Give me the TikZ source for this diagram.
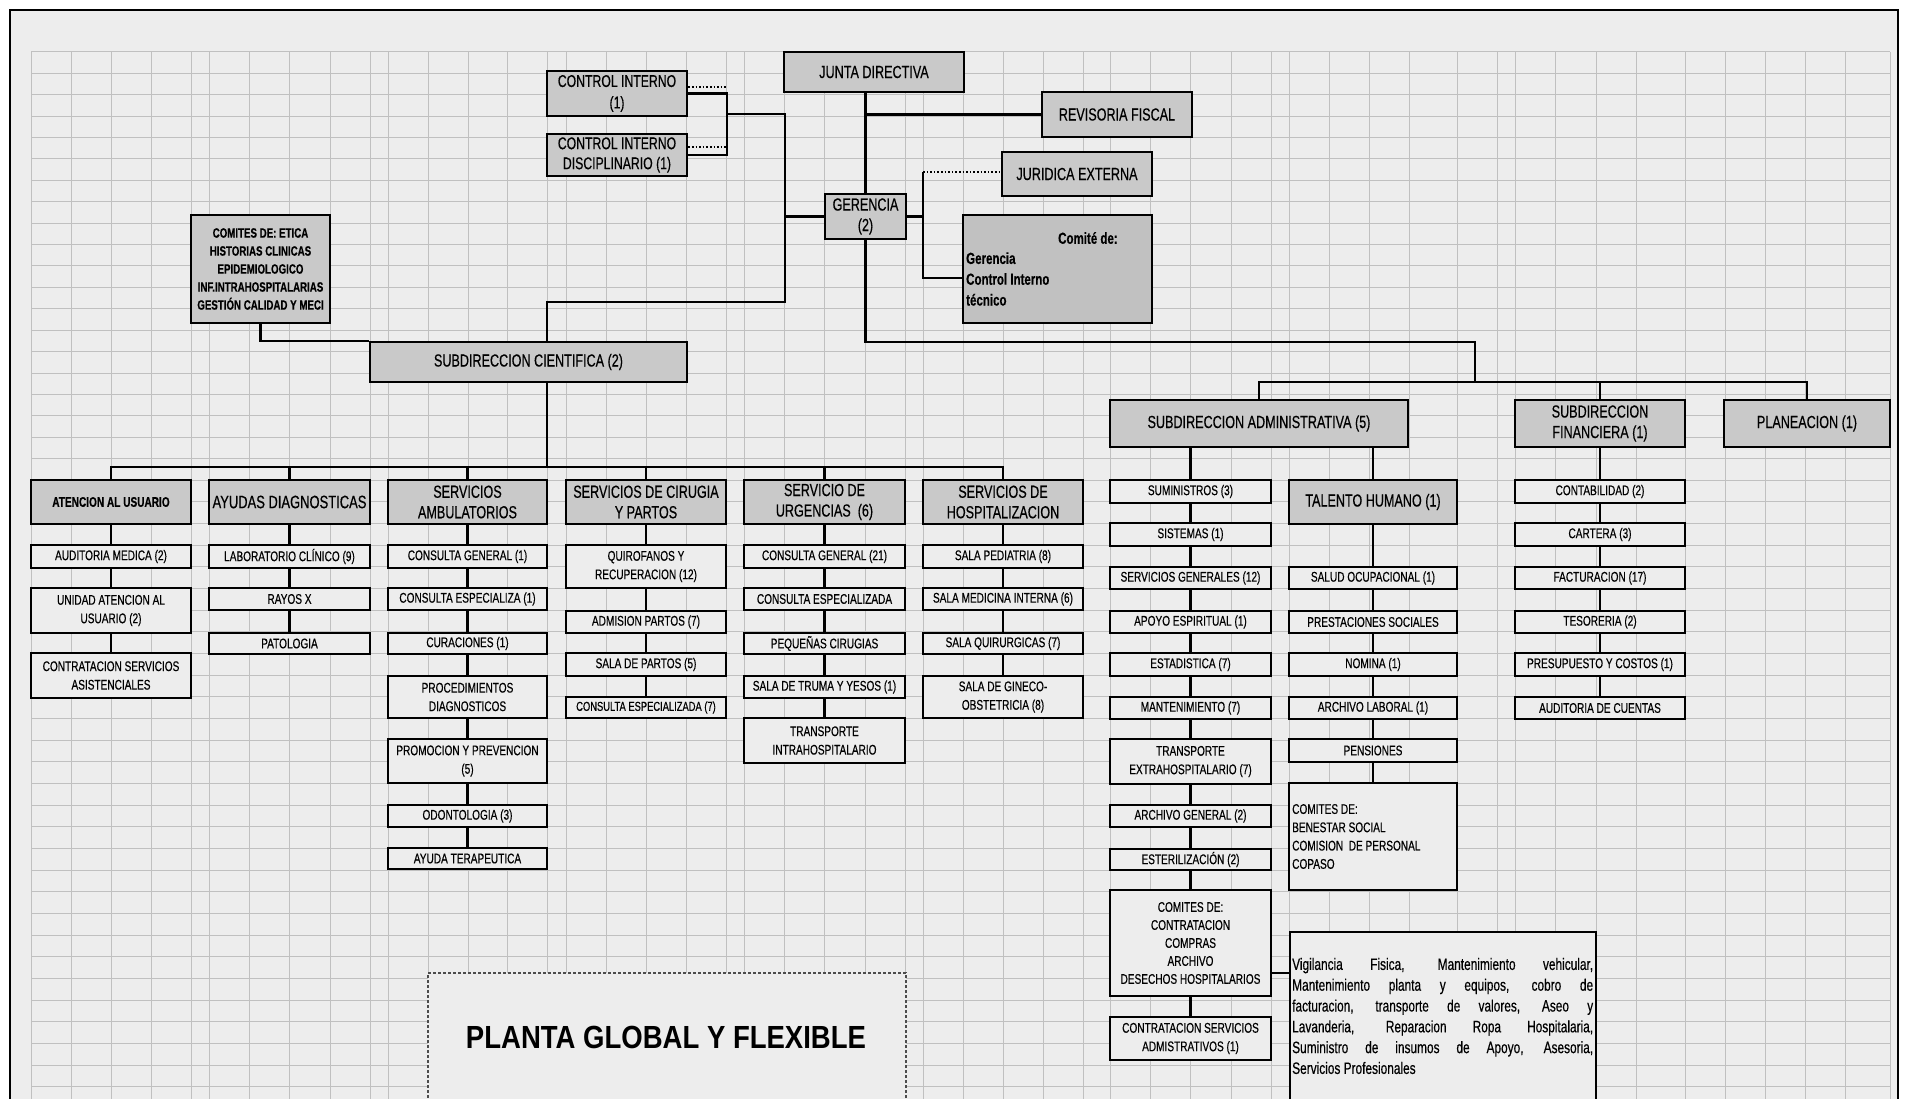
\documentclass[tikz,border=0pt]{standalone}
\usepackage{fontspec}
\setmainfont{Liberation Sans}
\newfontfamily\nf{Liberation Sans}[FakeStretch=0.72, FakeBold=0.4]
\newfontfamily\tf{Liberation Sans}[FakeStretch=0.86]
\definecolor{bgc}{HTML}{EDEDED}
\definecolor{gridc}{HTML}{C0C0C0}
\definecolor{hdrfill}{HTML}{C9C9C9}
\definecolor{ctefill}{HTML}{C1C1C1}
\tikzset{
  hdr/.style={draw, line width=2.6pt, fill=hdrfill, inner sep=0pt, align=center,
    font=\nf\fontsize{17.5}{20.5}\selectfont},
  sm/.style={draw, line width=2.6pt, fill=bgc, inner sep=0pt, align=center,
    font=\nf\fontsize{14}{18.5}\selectfont},
  conn/.style={line width=2.4pt},
  dotline/.style={line width=1.6pt, dotted},
  gridln/.style={gridc, line width=1pt},
  lbl/.style={inner sep=0pt, align=left},
}
% box from corner (x1,y1) to corner (x2,y2)
\newcommand\bx[7]{%
  \pgfmathsetmacro\bxw{#4-#2}%
  \pgfmathsetmacro\bxh{#5-#3}%
  \node[#6, minimum width=\bxw pt, minimum height=\bxh pt] (#1) at ({(#2+#4)/2},{(#3+#5)/2}) {#7};}
% one justified line of the services list
\newcommand\jline[1]{\hbox to 301pt{\spaceskip=.25em plus 1fil\relax #1}}
\begin{document}
\begin{tikzpicture}[x=1pt, y=-1pt]
\useasboundingbox (0,0) rectangle (1906,1099);
\clip (0,0) rectangle (1906,1099);
\fill[white] (0,0) rectangle (1906,1099);
\fill[bgc] (10,10) rectangle (1898,1110);
% sheet grid (spreadsheet columns and rows)
\foreach \gx in {31,71,111,151,191, 209,249,289,330,370, 388,428,468,507,547,
    566,606,646,686,726, 744,784,824,865,905, 923,963,1003,1043,1083,
    1110,1150,1190,1231,1271, 1289,1329,1369,1409,1457,1497,
    1515,1555,1596,1636,1685, 1725,1765,1805,1845,1890}
  \draw[gridln] (\gx,52) -- (\gx,1110);
\foreach \k in {0,...,19} \draw[gridln] (31,{52+21.4*\k}) -- (1890,{52+21.4*\k});
\foreach \k in {0,...,29} \draw[gridln] (31,{480+21.67*\k}) -- (1890,{480+21.67*\k});
\draw[line width=2pt] (10,1110) -- (10,10) -- (1898,10) -- (1898,1110);

% top management
\bx{jd}{784}{52}{964}{92}{hdr}{JUNTA DIRECTIVA}
\bx{rf}{1042}{92}{1192}{137}{hdr}{REVISORIA FISCAL}
\bx{je}{1002}{152}{1152}{196}{hdr}{JURIDICA EXTERNA}
\bx{ger}{825}{194}{906}{239}{hdr}{GERENCIA\\(2)}
\bx{cte}{963}{215}{1152}{323}{hdr, fill=ctefill}{}
\node[lbl, anchor=west, font=\nf\bfseries\fontsize{16}{19}\selectfont] (ctet) at (1058,238) {Comité de:};
\node[lbl, anchor=west, font=\nf\bfseries\fontsize{16}{20.8}\selectfont] (ctel) at (966,279) {Gerencia\\Control Interno\\técnico};
\bx{ci1}{547}{71}{687}{116}{hdr, font=\nf\fontsize{17}{21.5}\selectfont}{CONTROL INTERNO\\(1)}
\bx{cid}{547}{134}{687}{176}{hdr, font=\nf\fontsize{17}{20}\selectfont}{CONTROL INTERNO\\DISCIPLINARIO (1)}
\bx{eti}{191}{215}{330}{323}{hdr, font=\nf\bfseries\fontsize{13.5}{18}\selectfont}{COMITES DE: ETICA\\HISTORIAS CLINICAS\\EPIDEMIOLOGICO\\INF.INTRAHOSPITALARIAS\\GESTIÓN CALIDAD Y MECI}
\bx{sc}{370}{342}{687}{382}{hdr}{SUBDIRECCION CIENTIFICA (2)}

% scientific branch
\bx{atu}{31}{480}{191}{524}{hdr, font=\nf\bfseries\fontsize{14}{18}\selectfont}{ATENCION AL USUARIO}
\bx{ayd}{209}{480}{370}{524}{hdr, font=\nf\fontsize{18}{20}\selectfont}{AYUDAS DIAGNOSTICAS}
\bx{amb}{388}{480}{547}{524}{hdr}{SERVICIOS\\AMBULATORIOS}
\bx{cir}{566}{480}{726}{524}{hdr}{SERVICIOS DE CIRUGIA\\Y PARTOS}
\bx{urg}{744}{480}{905}{524}{hdr}{SERVICIO DE\\URGENCIAS\ \ (6)}
\bx{hos}{923}{480}{1083}{524}{hdr}{SERVICIOS DE\\HOSPITALIZACION}

\bx{a1}{31}{545}{191}{568}{sm}{AUDITORIA MEDICA (2)}
\bx{a2}{31}{588}{191}{633}{sm}{UNIDAD ATENCION AL\\USUARIO (2)}
\bx{a3}{31}{653}{191}{698}{sm}{CONTRATACION SERVICIOS\\ASISTENCIALES}
\bx{d1}{209}{545}{370}{568}{sm}{LABORATORIO CLÍNICO (9)}
\bx{d2}{209}{588}{370}{610}{sm}{RAYOS X}
\bx{d3}{209}{633}{370}{654}{sm}{PATOLOGIA}
\bx{m1}{388}{545}{547}{568}{sm}{CONSULTA GENERAL (1)}
\bx{m2}{388}{588}{547}{610}{sm}{CONSULTA ESPECIALIZA (1)}
\bx{m3}{388}{633}{547}{654}{sm}{CURACIONES (1)}
\bx{m4}{388}{676}{547}{718}{sm}{PROCEDIMIENTOS\\DIAGNOSTICOS}
\bx{m5}{388}{739}{547}{783}{sm}{PROMOCION Y PREVENCION\\(5)}
\bx{m6}{388}{805}{547}{827}{sm}{ODONTOLOGIA (3)}
\bx{m7}{388}{848}{547}{869}{sm}{AYUDA TERAPEUTICA}
\bx{c1}{566}{545}{726}{588}{sm}{QUIROFANOS Y\\RECUPERACION (12)}
\bx{c2}{566}{611}{726}{633}{sm}{ADMISION PARTOS (7)}
\bx{c3}{566}{653}{726}{676}{sm}{SALA DE PARTOS (5)}
\bx{c4}{566}{697}{726}{718}{sm, font=\nf\fontsize{13}{16}\selectfont}{CONSULTA ESPECIALIZADA (7)}
\bx{u1}{744}{545}{905}{568}{sm}{CONSULTA GENERAL (21)}
\bx{u2}{744}{588}{905}{610}{sm}{CONSULTA ESPECIALIZADA}
\bx{u3}{744}{633}{905}{654}{sm}{PEQUEÑAS CIRUGIAS}
\bx{u4}{744}{676}{905}{698}{sm}{SALA DE TRUMA Y YESOS (1)}
\bx{u5}{744}{718}{905}{763}{sm}{TRANSPORTE\\INTRAHOSPITALARIO}
\bx{h1}{923}{545}{1083}{568}{sm}{SALA PEDIATRIA (8)}
\bx{h2}{923}{588}{1083}{610}{sm}{SALA MEDICINA INTERNA (6)}
\bx{h3}{923}{633}{1083}{654}{sm}{SALA QUIRURGICAS (7)}
\bx{h4}{923}{676}{1083}{718}{sm}{SALA DE GINECO-\\OBSTETRICIA (8)}

% administrative and financial branches
\bx{sa}{1110}{400}{1408}{447}{hdr}{SUBDIRECCION ADMINISTRATIVA (5)}
\bx{sf}{1515}{400}{1685}{447}{hdr}{SUBDIRECCION\\FINANCIERA (1)}
\bx{pl}{1724}{400}{1890}{447}{hdr}{PLANEACION (1)}
\bx{s1}{1110}{480}{1271}{503}{sm}{SUMINISTROS (3)}
\bx{s2}{1110}{523}{1271}{546}{sm}{SISTEMAS (1)}
\bx{s3}{1110}{567}{1271}{589}{sm}{SERVICIOS GENERALES (12)}
\bx{s4}{1110}{611}{1271}{633}{sm}{APOYO ESPIRITUAL (1)}
\bx{s5}{1110}{653}{1271}{676}{sm}{ESTADISTICA (7)}
\bx{s6}{1110}{697}{1271}{719}{sm}{MANTENIMIENTO (7)}
\bx{s7}{1110}{739}{1271}{784}{sm}{TRANSPORTE\\EXTRAHOSPITALARIO (7)}
\bx{s8}{1110}{805}{1271}{827}{sm}{ARCHIVO GENERAL (2)}
\bx{s9}{1110}{849}{1271}{870}{sm}{ESTERILIZACIÓN (2)}
\bx{cc}{1110}{890}{1271}{996}{sm, font=\nf\fontsize{14}{18}\selectfont}{COMITES DE:\\CONTRATACION\\COMPRAS\\ARCHIVO\\DESECHOS HOSPITALARIOS}
\bx{csa}{1110}{1017}{1271}{1060}{sm}{CONTRATACION SERVICIOS\\ADMISTRATIVOS (1)}
\bx{th}{1289}{480}{1457}{524}{hdr}{TALENTO HUMANO (1)}
\bx{t1}{1289}{567}{1457}{589}{sm}{SALUD OCUPACIONAL (1)}
\bx{t2}{1289}{611}{1457}{633}{sm}{PRESTACIONES SOCIALES}
\bx{t3}{1289}{653}{1457}{676}{sm}{NOMINA (1)}
\bx{t4}{1289}{697}{1457}{719}{sm}{ARCHIVO LABORAL (1)}
\bx{t5}{1289}{739}{1457}{762}{sm}{PENSIONES}
\bx{bs}{1289}{783}{1457}{890}{sm}{}
\node[lbl, anchor=west, font=\nf\fontsize{14}{18.3}\selectfont] (bst) at (1292,836.5) {COMITES DE:\\BENESTAR SOCIAL\\COMISION\ \ DE PERSONAL\\COPASO};
\bx{f1}{1515}{480}{1685}{503}{sm}{CONTABILIDAD (2)}
\bx{f2}{1515}{523}{1685}{546}{sm}{CARTERA (3)}
\bx{f3}{1515}{567}{1685}{589}{sm}{FACTURACION (17)}
\bx{f4}{1515}{611}{1685}{633}{sm}{TESORERIA (2)}
\bx{f5}{1515}{653}{1685}{676}{sm}{PRESUPUESTO Y COSTOS (1)}
\bx{f6}{1515}{697}{1685}{719}{sm}{AUDITORIA DE CUENTAS}
\bx{vg}{1290}{932}{1596}{1115}{sm}{}
\node[lbl, anchor=west, font=\nf\fontsize{16.5}{20.8}\selectfont] (vgt) at (1292,1016)
  {\jline{Vigilancia Fisica, Mantenimiento vehicular,}\\
   \jline{Mantenimiento planta y equipos, cobro de}\\
   \jline{facturacion, transporte de valores, Aseo y}\\
   \jline{Lavanderia, Reparacion Ropa Hospitalaria,}\\
   \jline{Suministro de insumos de Apoyo, Asesoria,}\\
   Servicios Profesionales};

% title panel
\bx{pt}{428}{973}{906}{1115}{draw=black!70, line width=1.3pt, densely dashed, fill=bgc}{}
\node[font=\tf\bfseries\fontsize{32}{36}\selectfont, inner sep=0pt] (ptt) at (666,1037) {PLANTA GLOBAL Y FLEXIBLE};

% connectors
\coordinate (brk) at (727,114);
\coordinate (lsp) at (785,114);
\coordinate (lsb) at (785,302);
\coordinate (scx) at (547,302);
\coordinate (rsp) at (923,172);
\coordinate (rsb) at (923,278);
\coordinate (rbus) at (1475,342);
\coordinate (sbus) at (1475,382);
\coordinate (bus) at (547,467);

\draw[conn] (ger.north) -- (ger.north |- jd.south);
\draw[conn] (rf.west) -- (rf.west -| ger.north);
\draw[conn] (ci1.east) -| (brk |- cid.east) -- (cid.east);
\draw[conn] (brk) -- (lsp) -- (lsb) -- (scx) -- (scx |- sc.north);
\draw[conn] (ger.west) -- (ger.west -| lsp);
\draw[conn] (ger.east) -- (ger.east -| rsp);
\draw[conn] (rsp) -- (rsb) -- (rsb -| cte.west);
\draw[dotline] (rsp) -- (rsp -| je.west);
\draw[dotline] ([yshift=6.5pt]ci1.east) -- ([yshift=6.5pt]ci1.east -| brk);
\draw[dotline] ([yshift=8pt]cid.east) -- ([yshift=8pt]cid.east -| brk);
\draw[conn] (eti.south) |- (sc.north west);
\draw[conn] (ger.south) |- (rbus) -- (sbus);
\draw[conn] (sa.north) |- (sbus) -| (pl.north);
\draw[conn] (sf.north) -- (sf.north |- sbus);
\draw[conn] (scx |- sc.south) -- (bus);
\draw[conn] (atu.north) |- (bus) -| (hos.north);
\foreach \n in {ayd,amb,cir,urg} \draw[conn] (\n.north) -- (\n.north |- bus);
\draw[conn] (s1.north) -- (s1.north |- sa.south);
\draw[conn] (th.north) -- (th.north |- sa.south);
\foreach \a/\b in {atu/a1,a1/a2,a2/a3, ayd/d1,d1/d2,d2/d3,
    amb/m1,m1/m2,m2/m3,m3/m4,m4/m5,m5/m6,m6/m7,
    cir/c1,c1/c2,c2/c3,c3/c4, urg/u1,u1/u2,u2/u3,u3/u4,u4/u5,
    hos/h1,h1/h2,h2/h3,h3/h4,
    s1/s2,s2/s3,s3/s4,s4/s5,s5/s6,s6/s7,s7/s8,s8/s9,s9/cc,cc/csa,
    th/t1,t1/t2,t2/t3,t3/t4,t4/t5,t5/bs,
    sf/f1,f1/f2,f2/f3,f3/f4,f4/f5,f5/f6}
  \draw[conn] (\a.south) -- (\b.north);
\path ([yshift=-30pt]cc.east) coordinate (ccx);
\draw[conn] (ccx) -- (ccx -| vg.west);
\end{tikzpicture}
\end{document}
